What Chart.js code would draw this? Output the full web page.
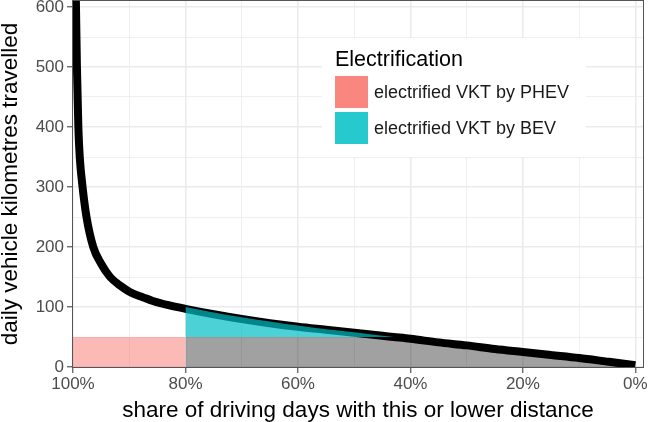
<!DOCTYPE html>
<html>
<head>
<meta charset="utf-8">
<script src="https://cdn.jsdelivr.net/npm/chart.js@4/dist/chart.umd.min.js"></script>
<style>
    html, body { margin: 0; padding: 0; background: #fff; }
    canvas { display: block; }
</style>
</head>
<body>
<canvas id="vktChart" width="651" height="422"></canvas>
<script>
// Кривая распределения суточного пробега (доля дней, км)
const shareDays = [99.6, 99.47, 99.3, 99.05, 98.8, 98.3, 97.6, 96.4, 95, 93.4, 91.5, 89.9, 87.5, 85.8, 83, 80, 75, 70, 65, 60, 55, 50, 45, 43, 40, 35, 30, 25, 20, 15, 10, 5, 0];
const dailyVkt = [700, 600, 500, 400, 350, 300, 250, 200, 172, 150, 135, 125, 116, 110, 103, 97, 88, 80, 73, 67, 62, 57, 52, 50, 47, 41, 36, 30, 25, 20, 15, 9, 3];

// Электрифицированный пробег BEV (выше 50 км), верхняя граница заливки
const bevShare = [80, 75, 70, 65, 60, 55, 50, 45, 43];
const bevVkt = [100, 91, 83, 76, 69, 63, 58, 52, 50];

// Остальная часть под кривой (до 50 км)
const restShare = [80, 43, 40, 35, 30, 25, 20, 15, 10, 5, 0];
const restVkt = [50, 50, 47, 41, 36, 30, 25, 20, 15, 9, 3];

// Электрифицированный пробег PHEV
const phevShare = [100, 80];
const phevVkt = [50, 50];
const phevRange = 50;

// Подписи осей и легенды
const xTicks = [0, 10, 20, 30, 40, 50, 60, 70, 80, 90, 100];
const yTicks = [0, 50, 100, 150, 200, 250, 300, 350, 400, 450, 500, 550, 600];
const legendTitle = 'Electrification';
const legendLabels = ['electrified VKT by PHEV', 'electrified VKT by BEV'];
const legendColors = ['rgba(248, 118, 109, 0.88)', 'rgba(0, 191, 196, 0.85)'];

const FONT = "'Liberation Sans', Arial, Helvetica, sans-serif";

function toPoints(xs, ys) {
    return xs.map((x, i) => ({ x: x, y: ys[i] }));
}

// Рамка панели
const panelBorder = {
    id: 'panelBorder',
    afterDatasetsDraw(chart) {
        const { ctx, chartArea: a } = chart;
        ctx.save();
        ctx.strokeStyle = '#555';
        ctx.lineWidth = 1;
        ctx.strokeRect(Math.round(a.left) - 0.5, Math.round(a.top) - 0.5,
            Math.round(a.right - a.left) + 1, Math.round(a.bottom - a.top) + 1);
        ctx.restore();
    }
};

// Легенда внутри области графика
const insideLegend = {
    id: 'insideLegend',
    afterDraw(chart) {
        const { ctx } = chart;
        ctx.save();
        ctx.fillStyle = '#fff';
        ctx.fillRect(322, 38, 264, 119);

        ctx.fillStyle = '#000';
        ctx.textAlign = 'left';
        ctx.textBaseline = 'alphabetic';
        ctx.font = '21.5px ' + FONT;
        ctx.fillText(legendTitle, 335, 66);

        ctx.font = '18px ' + FONT;
        ctx.textBaseline = 'middle';
        legendLabels.forEach((label, i) => {
            const top = 76 + i * 36;
            ctx.fillStyle = legendColors[i];
            ctx.fillRect(335, top, 33, 32);
            ctx.fillStyle = '#1a1a1a';
            ctx.fillText(label, 374, top + 17);
        });
        ctx.restore();
    }
};

const gridWidth = (step) => (c) => (c.tick && c.tick.value % step === 0 ? 1.6 : 0.8);
const tickColor = (step) => (c) => (c.tick && c.tick.value % step === 0 ? '#333' : 'rgba(0,0,0,0)');

const ctx = document.getElementById('vktChart').getContext('2d');
new Chart(ctx, {
    type: 'line',
    data: {
        datasets: [
            {
                label: legendLabels[1],
                data: toPoints(bevShare, bevVkt),
                borderColor: 'transparent',
                borderWidth: 0,
                backgroundColor: 'rgba(0, 191, 196, 0.7)',
                fill: { value: phevRange },
                cubicInterpolationMode: 'monotone',
                order: 0
            },
            {
                label: 'daily VKT',
                data: toPoints(shareDays, dailyVkt),
                borderColor: '#000',
                borderWidth: 8,
                fill: false,
                cubicInterpolationMode: 'monotone',
                order: 1
            },
            {
                label: 'not electrified',
                data: toPoints(restShare, restVkt),
                borderColor: 'transparent',
                borderWidth: 0,
                backgroundColor: 'rgba(0, 0, 0, 0.37)',
                fill: 'origin',
                cubicInterpolationMode: 'monotone',
                order: 2
            },
            {
                label: legendLabels[0],
                data: toPoints(phevShare, phevVkt),
                borderColor: 'transparent',
                borderWidth: 0,
                backgroundColor: 'rgba(248, 118, 109, 0.5)',
                fill: 'origin',
                order: 3
            }
        ]
    },
    options: {
        responsive: false,
        animation: false,
        devicePixelRatio: 1,
        layout: { padding: { top: 1, right: 8, left: 0, bottom: 0 } },
        elements: { point: { radius: 0 } },
        plugins: {
            legend: { display: false },
            tooltip: { enabled: false }
        },
        scales: {
            x: {
                type: 'linear',
                reverse: true,
                min: -1.35,
                max: 100,
                afterBuildTicks: (scale) => { scale.ticks = xTicks.map(v => ({ value: v })); },
                afterFit: (scale) => { scale.height = 55; scale.paddingLeft = 0; scale.paddingRight = 0; },
                ticks: {
                    autoSkip: false,
                    maxRotation: 0,
                    padding: 1,
                    color: '#4d4d4d',
                    font: { family: FONT, size: 17 },
                    callback: (v) => (v % 20 === 0 ? v + '%' : '')
                },
                grid: {
                    color: '#ebebeb',
                    lineWidth: gridWidth(20),
                    tickColor: tickColor(20),
                    tickWidth: 1,
                    tickLength: 6
                },
                border: { display: false },
                title: {
                    display: true,
                    text: 'share of driving days with this or lower distance',
                    color: '#000',
                    font: { family: FONT, size: 22.5, lineHeight: 1 },
                    padding: 0
                }
            },
            y: {
                type: 'linear',
                min: 0,
                max: 610,
                afterBuildTicks: (scale) => { scale.ticks = yTicks.map(v => ({ value: v })); },
                afterFit: (scale) => { scale.width = 73; scale.paddingTop = 0; scale.paddingBottom = 0; },
                ticks: {
                    autoSkip: false,
                    padding: 3,
                    color: '#4d4d4d',
                    font: { family: FONT, size: 17 },
                    callback: (v) => (v % 100 === 0 ? v : '')
                },
                grid: {
                    color: '#ebebeb',
                    lineWidth: gridWidth(100),
                    tickColor: tickColor(100),
                    tickWidth: 1,
                    tickLength: 6
                },
                border: { display: false },
                title: {
                    display: true,
                    text: 'daily vehicle kilometres travelled',
                    color: '#000',
                    font: { family: FONT, size: 22.5, lineHeight: 1 },
                    padding: 0
                }
            }
        }
    },
    plugins: [panelBorder, insideLegend]
});
</script>
</body>
</html>
